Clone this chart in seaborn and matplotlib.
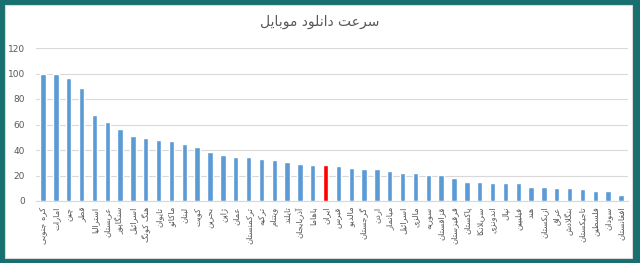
import matplotlib
matplotlib.use("Agg")
import matplotlib.pyplot as plt
import seaborn as sns
import pandas as pd
from matplotlib.patches import Rectangle

title = "سرعت دانلود موبایل"
countries = [
    "کره جنوبی", "امارات", "چین", "قطر", "استرالیا", "عربستان", "سنگاپور",
    "اسرائیل", "هنگ کونگ", "تایوان", "ماکائو", "لبنان", "کویت", "بحرین",
    "ژاپن", "عمان", "ترکمنستان", "ترکیه", "ویتنام", "تایلند", "آذربایجان",
    "باهاما", "ایران", "قبرس", "مالدیو", "گرجستان", "اردن", "میانمار",
    "اسرائیل", "مالزی", "سوریه", "قزاقستان", "قرقیزستان", "پاکستان",
    "سریلانکا", "اندونزی", "نپال", "فیلیپین", "هند", "ازبکستان", "عراق",
    "بنگلادش", "تاجیکستان", "فلسطین", "سودان", "افغانستان",
]
speeds = [
    100.0, 99.5, 96.7, 88.5, 67.4, 62.1, 56.6, 50.6, 49.8, 47.9, 47.2, 44.5,
    42.3, 38.5, 36.2, 34.3, 34.3, 32.7, 32.0, 30.6, 29.3, 28.5, 28.5, 27.8,
    25.9, 25.1, 25.1, 23.8, 22.0, 21.7, 20.7, 20.7, 17.8, 15.2, 15.0, 14.4,
    14.4, 13.9, 11.0, 11.0, 10.2, 10.2, 9.7, 7.6, 7.6, 5.0,
]
highlight = "ایران"
yticks = [0, 20, 40, 60, 80, 100, 120]

# --- simple Persian shaping (presentation forms + visual order) ---
FORMS = {
    "ا": (0xFE8D, 0xFE8E), "آ": (0xFE81, 0xFE82), "د": (0xFEA9, 0xFEAA),
    "ذ": (0xFEAB, 0xFEAC), "ر": (0xFEAD, 0xFEAE), "ز": (0xFEAF, 0xFEB0),
    "ژ": (0xFB8A, 0xFB8B), "و": (0xFEED, 0xFEEE), "ء": (0xFE80,),
    "ب": (0xFE8F, 0xFE90, 0xFE91, 0xFE92), "پ": (0xFB56, 0xFB57, 0xFB58, 0xFB59),
    "ت": (0xFE95, 0xFE96, 0xFE97, 0xFE98), "ث": (0xFE99, 0xFE9A, 0xFE9B, 0xFE9C),
    "ج": (0xFE9D, 0xFE9E, 0xFE9F, 0xFEA0), "چ": (0xFB7A, 0xFB7B, 0xFB7C, 0xFB7D),
    "ح": (0xFEA1, 0xFEA2, 0xFEA3, 0xFEA4), "خ": (0xFEA5, 0xFEA6, 0xFEA7, 0xFEA8),
    "س": (0xFEB1, 0xFEB2, 0xFEB3, 0xFEB4), "ش": (0xFEB5, 0xFEB6, 0xFEB7, 0xFEB8),
    "ص": (0xFEB9, 0xFEBA, 0xFEBB, 0xFEBC), "ض": (0xFEBD, 0xFEBE, 0xFEBF, 0xFEC0),
    "ط": (0xFEC1, 0xFEC2, 0xFEC3, 0xFEC4), "ظ": (0xFEC5, 0xFEC6, 0xFEC7, 0xFEC8),
    "ع": (0xFEC9, 0xFECA, 0xFECB, 0xFECC), "غ": (0xFECD, 0xFECE, 0xFECF, 0xFED0),
    "ف": (0xFED1, 0xFED2, 0xFED3, 0xFED4), "ق": (0xFED5, 0xFED6, 0xFED7, 0xFED8),
    "ک": (0xFB8E, 0xFB8F, 0xFB90, 0xFB91), "گ": (0xFB92, 0xFB93, 0xFB94, 0xFB95),
    "ل": (0xFEDD, 0xFEDE, 0xFEDF, 0xFEE0), "م": (0xFEE1, 0xFEE2, 0xFEE3, 0xFEE4),
    "ن": (0xFEE5, 0xFEE6, 0xFEE7, 0xFEE8), "ه": (0xFEE9, 0xFEEA, 0xFEEB, 0xFEEC),
    "ی": (0xFBFC, 0xFBFD, 0xFBFE, 0xFBFF), "ئ": (0xFE89, 0xFE8A, 0xFE8B, 0xFE8C),
}
LAMALEF = {"ا": (0xFEFB, 0xFEFC), "آ": (0xFEF5, 0xFEF6)}


def shape(text):
    out = []
    chars = list(text)
    i = 0
    n = len(chars)
    while i < n:
        c = chars[i]
        if c not in FORMS:
            out.append(c)
            i += 1
            continue
        prev = chars[i - 1] if i > 0 else None
        cp = prev is not None and prev in FORMS and len(FORMS[prev]) == 4
        if c == "ل" and i + 1 < n and chars[i + 1] in LAMALEF:
            lig = LAMALEF[chars[i + 1]]
            out.append(chr(lig[1] if cp else lig[0]))
            i += 2
            continue
        nxt = chars[i + 1] if i + 1 < n else None
        f = FORMS[c]
        cn = len(f) == 4 and nxt is not None and nxt in FORMS
        if cp and cn:
            code = f[3]
        elif cp:
            code = f[1]
        elif cn:
            code = f[2]
        else:
            code = f[0]
        out.append(chr(code))
        i += 1
    return "".join(out)[::-1]


sns.set_theme(style="white")
plt.rcParams["font.family"] = ["DejaVu Sans"]

grey = "#595959"
blue = "#5B9BD5"
red = "#FF0000"

df = pd.DataFrame({"country": countries, "speed": speeds})
df["key"] = [f"{i:02d}" for i in range(len(countries))]
palette = {k: (red if c == highlight else blue) for k, c in zip(df["key"], df["country"])}

fig = plt.figure(figsize=(6.4, 2.63), dpi=100)
fig.patch.set_facecolor("#176f6f")
fig.patches.append(Rectangle((5 / 640, 5 / 263), 627 / 640, 253 / 263,
                             transform=fig.transFigure, facecolor="white",
                             edgecolor="#d9d9d9", linewidth=0.8, zorder=-5))

ax = fig.add_axes([36 / 640, 62 / 263, 592 / 640, 153 / 263])
ax.set_zorder(2)
ax.set_facecolor("none")
sns.barplot(data=df, x="key", y="speed", hue="key", palette=palette,
            legend=False, width=0.42, ax=ax, saturation=1, zorder=3)

ax.set_xlim(-0.55, 45.55)
ax.set_ylim(0, 120)
ax.set_yticks(yticks)
ax.set_yticklabels([str(v) for v in yticks], fontsize=6.5, color=grey)
ax.yaxis.grid(True, color="#d9d9d9", linewidth=0.8, zorder=0)
ax.set_axisbelow(True)
ax.set_xlabel("")
ax.set_ylabel("")
for s in ["top", "right", "left"]:
    ax.spines[s].set_visible(False)
ax.spines["bottom"].set_color("#d9d9d9")
ax.spines["bottom"].set_linewidth(0.8)
ax.tick_params(axis="y", length=0, pad=8)
ax.tick_params(axis="x", length=0, pad=4)
ax.set_xticks(range(len(countries)))
ax.set_xticklabels([shape(c) for c in countries], rotation=90, fontsize=6,
                   color=grey, ha="center", va="top")

fig.text(0.5, 1 - 22 / 263, shape(title), ha="center", va="center",
         fontsize=10, color=grey)

fig.savefig("out.png", dpi=100, facecolor=fig.get_facecolor())
